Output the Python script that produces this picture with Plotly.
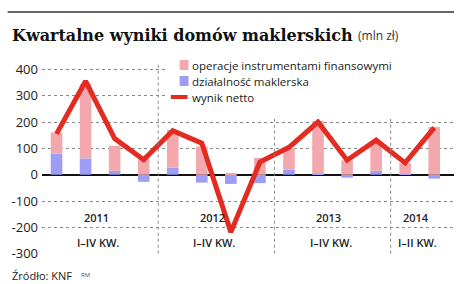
import plotly.graph_objects as go

quarters = ["I 2011", "II 2011", "III 2011", "IV 2011",
            "I 2012", "II 2012", "III 2012", "IV 2012",
            "I 2013", "II 2013", "III 2013", "IV 2013",
            "I 2014", "II 2014"]
# działalność maklerska (mln zł)
brokerage = [80, 62, 15, -27, 27, -30, -35, -32, 19, 3, -11, 15, 2, -15]
# operacje instrumentami finansowymi (mln zł, stacked part)
instruments = [80, 283, 95, 60, 143, 107, 5, 64, 81, 201, 54, 107, 42, 181]
# wynik netto (mln zł)
net = [155, 355, 137, 57, 167, 120, -218, 48, 104, 200, 55, 131, 45, 179]

years = ["2011", "2012", "2013", "2014"]
year_sub = ["I–IV KW.", "I–IV KW.", "I–IV KW.", "I–II KW."]
year_counts = [4, 4, 4, 2]
y_ticks = [-300, -200, -100, 0, 100, 200, 300, 400]

legend_labels = ["operacje instrumentami finansowymi", "działalność maklerska", "wynik netto"]

PINK = "#f3a8ad"
BLUE = "#9d9cf6"
RED = "#e32b22"
SANS = "Open Sans"

x = list(range(len(quarters)))

fig = go.Figure()
fig.add_trace(go.Bar(x=x, y=brokerage, marker_color=BLUE, marker_line_width=0,
                     width=0.4, name=legend_labels[1], showlegend=False))
fig.add_trace(go.Bar(x=x, y=instruments, marker_color=PINK, marker_line_width=0,
                     width=0.4, name=legend_labels[0], showlegend=False))
fig.add_trace(go.Scatter(x=x, y=net, mode="lines", line=dict(color=RED, width=5),
                         name=legend_labels[2], showlegend=False))

W, H = 476, 284
ml, mr, mt, mb = 35, 22, 63, 30
pw, ph = W - ml - mr, H - mt - mb

def px_x(p):
    return (p - ml) / pw

def px_y(p):
    return (H - mb - p) / ph

shapes = []
annotations = []

# year dividers
start = 0
bounds = []
for c in year_counts:
    bounds.append((start, start + c - 1))
    start += c
for i in range(len(bounds) - 1):
    xd = bounds[i][1] + 0.5
    shapes.append(dict(type="line", xref="x", yref="y", x0=xd, x1=xd, y0=-300, y1=424,
                       line=dict(color="#888", width=1, dash="dot"), layer="above"))

# white legend background
shapes.append(dict(type="rect", xref="paper", yref="paper", x0=px_x(161), x1=1.0,
                   y0=px_y(119), y1=px_y(56), fillcolor="white", line=dict(width=0), layer="above"))
# legend symbols
leg_y = [65, 81, 97]
shapes.append(dict(type="rect", xref="paper", yref="paper", x0=px_x(175), x1=px_x(184),
                   y0=px_y(leg_y[0] + 5), y1=px_y(leg_y[0] - 5), fillcolor=PINK, line=dict(width=0), layer="above"))
shapes.append(dict(type="rect", xref="paper", yref="paper", x0=px_x(175), x1=px_x(184),
                   y0=px_y(leg_y[1] + 5), y1=px_y(leg_y[1] - 5), fillcolor=BLUE, line=dict(width=0), layer="above"))
shapes.append(dict(type="line", xref="paper", yref="paper", x0=px_x(166), x1=px_x(183),
                   y0=px_y(leg_y[2]), y1=px_y(leg_y[2]), line=dict(color=RED, width=4), layer="above"))
for lab, yy in zip(legend_labels, leg_y):
    annotations.append(dict(text=lab, xref="paper", yref="paper", x=px_x(186), y=px_y(yy),
                            xanchor="left", yanchor="middle", showarrow=False,
                            font=dict(family=SANS, size=11.5, color="#222")))

# top rule
shapes.append(dict(type="line", xref="paper", yref="paper", x0=px_x(0), x1=px_x(454),
                   y0=px_y(12), y1=px_y(12), line=dict(color="#666", width=2)))

# title
annotations.append(dict(text="<b>Kwartalne wyniki domów maklerskich</b>", xref="paper", yref="paper",
                        x=px_x(2), y=px_y(35), xanchor="left", yanchor="middle", showarrow=False,
                        font=dict(family="DejaVu Serif", size=16, color="#111")))
annotations.append(dict(text="(mln zł)", xref="paper", yref="paper",
                        x=px_x(354), y=px_y(35), xanchor="left", yanchor="middle", showarrow=False,
                        font=dict(family=SANS, size=12, color="#333")))

# year labels
for (a, b), yl, sl in zip(bounds, years, year_sub):
    xc = (a + b) / 2
    annotations.append(dict(text=yl, xref="x", yref="y", x=xc, y=-163, showarrow=False,
                            xanchor="center", yanchor="middle", xshift=-4,
                            font=dict(family=SANS, size=11, color="#222", weight=600)))
    annotations.append(dict(text=sl, xref="x", yref="y", x=xc, y=-258, showarrow=False,
                            xanchor="center", yanchor="middle", xshift=-2,
                            font=dict(family=SANS, size=11, color="#222", weight=600)))

# source
annotations.append(dict(text="Źródło: KNF", xref="paper", yref="paper", x=px_x(2), y=px_y(275),
                        xanchor="left", yanchor="middle", showarrow=False,
                        font=dict(family=SANS, size=11, color="#222")))
annotations.append(dict(text="RM", xref="paper", yref="paper", x=px_x(73), y=px_y(275),
                        xanchor="left", yanchor="middle", showarrow=False,
                        font=dict(family=SANS, size=6, color="#555")))

fig.update_layout(
    width=W, height=H,
    margin=dict(l=ml, r=mr, t=mt, b=mb, pad=0),
    paper_bgcolor="white", plot_bgcolor="white",
    barmode="relative",
    showlegend=False,
    shapes=shapes,
    annotations=annotations,
    xaxis=dict(range=[-0.5, 13.68], showgrid=False, zeroline=False, showticklabels=False,
               ticks="", showline=False, fixedrange=True),
    yaxis=dict(range=[-301, 424], tickvals=y_ticks, ticktext=[str(v) for v in y_ticks],
               showgrid=True, gridcolor="#888", gridwidth=1, griddash="dot",
               zeroline=True, zerolinecolor="#111", zerolinewidth=2,
               tickfont=dict(family=SANS, size=13, color="#222"), ticks="", showline=False,
               ticklabelstandoff=3, fixedrange=True),
)

fig.write_html("out.html")
